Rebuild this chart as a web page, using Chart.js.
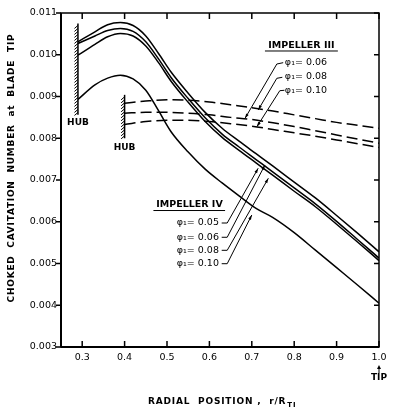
<!DOCTYPE html>
<html><head><meta charset="utf-8">
<script src="https://cdn.jsdelivr.net/npm/chart.js@4/dist/chart.umd.min.js"></script>
<style>html,body{margin:0;padding:0;background:#fff;overflow:hidden;}#wrap{width:395px;height:413px;position:relative;}</style>
</head><body><div id="wrap"><canvas id="c"></canvas></div>
<script>
// ---- data ----
const xTicks = [0.3, 0.4, 0.5, 0.6, 0.7, 0.8, 0.9, 1.0];
const yTicks = [0.003, 0.004, 0.005, 0.006, 0.007, 0.008, 0.009, 0.010, 0.011];

// Impeller IV (solid)
const rIV = [0.29, 0.33, 0.36, 0.39, 0.42, 0.45, 0.48, 0.51, 0.55, 0.59, 0.63, 0.67, 0.71, 0.75, 0.80, 0.85, 0.90, 0.95, 1.00];
const iv005 = [0.01031, 0.01055, 0.01072, 0.01077, 0.01070, 0.01045, 0.01003, 0.00958, 0.00908, 0.00862, 0.00824, 0.00793, 0.00763, 0.00733, 0.00695, 0.00657, 0.00615, 0.00572, 0.00528];
const iv006 = [0.01027, 0.01045, 0.01058, 0.01063, 0.01056, 0.01031, 0.00990, 0.00945, 0.00895, 0.00849, 0.00810, 0.00779, 0.00749, 0.00719, 0.00681, 0.00643, 0.00601, 0.00557, 0.00513];
const iv008 = [0.00999, 0.01025, 0.01043, 0.01051, 0.01045, 0.01021, 0.00981, 0.00936, 0.00886, 0.00840, 0.00802, 0.00771, 0.00741, 0.00711, 0.00673, 0.00636, 0.00594, 0.00551, 0.00507];
const iv010 = [0.00893, 0.00928, 0.00944, 0.00951, 0.00942, 0.00915, 0.00866, 0.00815, 0.00767, 0.00726, 0.00693, 0.00662, 0.00632, 0.00610, 0.00574, 0.00532, 0.00490, 0.00448, 0.00405];

// Impeller III (dashed)
const rIII = [0.40, 0.45, 0.50, 0.55, 0.60, 0.65, 0.70, 0.75, 0.80, 0.85, 0.90, 0.95, 1.00];
const iii006 = [0.00884, 0.00889, 0.00892, 0.00891, 0.00887, 0.00880, 0.00873, 0.00865, 0.00856, 0.00847, 0.00838, 0.00831, 0.00824];
const iii008 = [0.00860, 0.00862, 0.00862, 0.00860, 0.00856, 0.00850, 0.00845, 0.00837, 0.00828, 0.00818, 0.00808, 0.00798, 0.00788];
const iii010 = [0.00833, 0.00840, 0.00843, 0.00843, 0.00840, 0.00835, 0.00829, 0.00821, 0.00813, 0.00805, 0.00796, 0.00787, 0.00778];

const yTitle = 'CHOKED  CAVITATION  NUMBER  at  BLADE  TIP';
const xTitle = 'RADIAL  POSITION ,  r/R';
const xTitleSub = 'TI';

// ---- annotations (data coordinates) ----
const hubs = [
  {r: 0.29, v0: 0.01075, v1: 0.00856, label: 'HUB', labelV: 0.008485},
  {r: 0.40, v0: 0.00904, v1: 0.00800, label: 'HUB', labelV: 0.007886}
];
const impIII = {text: 'IMPELLER III', r: 0.817, v: 0.010222, ur0: 0.731, ur1: 0.903, uv: 0.01009};
const impIV = {text: 'IMPELLER IV', r: 0.553, v: 0.006401, ur0: 0.468, ur1: 0.637, uv: 0.006269};
const phiIII = [
  {t: '0.06', r: 0.778, v: 0.009802, path: [[0.774, 0.009810], [0.759, 0.009778], [0.684, 0.008478]]},
  {t: '0.08', r: 0.778, v: 0.009467, path: [[0.772, 0.009460], [0.759, 0.009436], [0.715, 0.008677]]},
  {t: '0.10', r: 0.778, v: 0.009132, path: [[0.777, 0.009149], [0.766, 0.009139], [0.712, 0.008277]]}
];
const phiIV = [
  {t: '0.05', r: 0.523, v: 0.00597, path: [[0.629, 0.00597], [0.642, 0.00597], [0.715, 0.007280]]},
  {t: '0.06', r: 0.523, v: 0.005628, path: [[0.629, 0.005628], [0.642, 0.005628], [0.731, 0.007359]]},
  {t: '0.08', r: 0.523, v: 0.005316, path: [[0.629, 0.005316], [0.642, 0.005316], [0.739, 0.007041]]},
  {t: '0.10', r: 0.523, v: 0.004995, path: [[0.629, 0.004995], [0.642, 0.004995], [0.700, 0.006162]]}
];

const pts = (xs, ys) => xs.map((x, i) => ({x: x, y: ys[i]}));
const solid = (label, ys) => ({label, data: pts(rIV, ys), borderColor: '#000', borderWidth: 1.5, pointRadius: 0, fill: false, cubicInterpolationMode: 'monotone'});
const dashed = (label, ys) => ({label, data: pts(rIII, ys), borderColor: '#000', borderWidth: 1.5, borderDash: [11, 5], pointRadius: 0, fill: false, cubicInterpolationMode: 'monotone'});

const FONT = '"DejaVu Sans", "Liberation Sans", sans-serif';

function line(ctx, x0, y0, x1, y1) { ctx.beginPath(); ctx.moveTo(x0, y0); ctx.lineTo(x1, y1); ctx.stroke(); }

const deco = {
  id: 'deco',
  afterDraw(chart) {
    const ctx = chart.ctx, a = chart.chartArea, xs = chart.scales.x, ys = chart.scales.y;
    const X = v => xs.getPixelForValue(v), Y = v => ys.getPixelForValue(v);
    ctx.save();
    ctx.strokeStyle = '#000'; ctx.fillStyle = '#000';
    // frame
    ctx.lineWidth = 1.5;
    ctx.strokeRect(a.left, a.top, a.right - a.left, a.bottom - a.top);
    ctx.lineWidth = 2;
    line(ctx, a.left, a.top, a.left, a.bottom);
    line(ctx, a.left, a.bottom, a.right, a.bottom);
    // ticks
    ctx.lineWidth = 1.5;
    xTicks.forEach(v => { const p = X(v); line(ctx, p, a.bottom, p, a.bottom - 6); line(ctx, p, a.top, p, a.top + 6); });
    yTicks.forEach(v => { const p = Y(v); line(ctx, a.left - 5, p, a.left, p); line(ctx, a.right - 5, p, a.right, p); });
    // hubs
    hubs.forEach(h => {
      const px = X(h.r), y0 = Y(h.v0), y1 = Y(h.v1);
      ctx.lineWidth = 1.5; line(ctx, px, y0, px, y1);
      ctx.lineWidth = 1;
      for (let y = y0 + 2; y <= y1; y += 3) line(ctx, px, y, px - 3.5, y + 3);
      ctx.font = 'bold 9px ' + FONT; ctx.textAlign = 'center'; ctx.textBaseline = 'top';
      ctx.fillText(h.label, px, Y(h.labelV));
    });
    // impeller labels
    [impIII, impIV].forEach(t => {
      ctx.font = 'bold 9.5px ' + FONT; ctx.textAlign = 'center'; ctx.textBaseline = 'middle';
      ctx.fillText(t.text, X(t.r), Y(t.v));
      ctx.lineWidth = 1; line(ctx, X(t.ur0), Y(t.uv), X(t.ur1), Y(t.uv));
    });
    // phi labels and leaders
    const drawPhi = (p) => {
      ctx.font = '9.5px ' + FONT; ctx.textAlign = 'left'; ctx.textBaseline = 'middle';
      ctx.fillText('φ₁= ' + p.t, X(p.r), Y(p.v));
      ctx.lineWidth = 1;
      ctx.beginPath();
      p.path.forEach((q, i) => { const px = X(q[0]), py = Y(q[1]); if (i) ctx.lineTo(px, py); else ctx.moveTo(px, py); });
      ctx.stroke();
      const n = p.path.length, e = p.path[n - 1], s = p.path[n - 2];
      const ex = X(e[0]), ey = Y(e[1]), sx = X(s[0]), sy = Y(s[1]);
      const ang = Math.atan2(ey - sy, ex - sx);
      ctx.beginPath();
      ctx.moveTo(ex, ey);
      ctx.lineTo(ex - 5 * Math.cos(ang - 0.3), ey - 5 * Math.sin(ang - 0.3));
      ctx.lineTo(ex - 5 * Math.cos(ang + 0.3), ey - 5 * Math.sin(ang + 0.3));
      ctx.closePath(); ctx.fill();
    };
    phiIII.forEach(drawPhi); phiIV.forEach(drawPhi);
    // TIP arrow under 1.0
    const tx = X(1.0);
    ctx.lineWidth = 1; line(ctx, tx, 367, tx, 373);
    ctx.beginPath(); ctx.moveTo(tx, 365); ctx.lineTo(tx - 2, 369); ctx.lineTo(tx + 2, 369); ctx.closePath(); ctx.fill();
    ctx.font = 'bold 9px ' + FONT; ctx.textAlign = 'center'; ctx.textBaseline = 'middle';
    ctx.fillText('TIP', tx, 378);
    // y title
    ctx.save();
    ctx.translate(12, 168); ctx.rotate(-Math.PI / 2);
    ctx.font = 'bold 9px ' + FONT; ctx.textAlign = 'center'; ctx.textBaseline = 'middle';
    const w0 = ctx.measureText(yTitle).width;
    if ('letterSpacing' in ctx) ctx.letterSpacing = Math.max(0, (268 - w0) / (yTitle.length - 1)) + 'px';
    ctx.fillText(yTitle, 0, 0);
    ctx.restore();
    // x title
    ctx.save();
    ctx.font = 'bold 9px ' + FONT; ctx.textAlign = 'left'; ctx.textBaseline = 'middle';
    if ('letterSpacing' in ctx) ctx.letterSpacing = '0.8px';
    const wm = ctx.measureText(xTitle).width;
    const start = 148;
    ctx.fillText(xTitle, start, 401.5);
    ctx.font = 'bold 7px ' + FONT;
    ctx.fillText(xTitleSub, start + wm + 1, 405);
    ctx.restore();
    ctx.restore();
  }
};

new Chart(document.getElementById('c'), {
  type: 'line',
  data: {
    datasets: [
      solid('Impeller IV φ1=0.05', iv005),
      solid('Impeller IV φ1=0.06', iv006),
      solid('Impeller IV φ1=0.08', iv008),
      solid('Impeller IV φ1=0.10', iv010),
      dashed('Impeller III φ1=0.06', iii006),
      dashed('Impeller III φ1=0.08', iii008),
      dashed('Impeller III φ1=0.10', iii010)
    ]
  },
  options: {
    responsive: true, maintainAspectRatio: false, animation: false,
    layout: {padding: {top: 13, right: 16, left: 0, bottom: 0}},
    plugins: {legend: {display: false}, tooltip: {enabled: false}, title: {display: false}},
    scales: {
      x: {
        type: 'linear', min: 0.25, max: 1.0,
        afterBuildTicks: s => { s.ticks = xTicks.map(v => ({value: v})); },
        afterFit: s => { s.height = 66; },
        grid: {display: false, drawTicks: false}, border: {display: false},
        ticks: {padding: 5, color: '#000', font: {family: FONT, size: 9.5}, callback: v => Number(v).toFixed(1), maxRotation: 0, autoSkip: false}
      },
      y: {
        type: 'linear', min: 0.003, max: 0.011,
        afterBuildTicks: s => { s.ticks = yTicks.map(v => ({value: v})); },
        afterFit: s => { s.width = 61; },
        grid: {display: false, drawTicks: false}, border: {display: false},
        ticks: {padding: 4, color: '#000', font: {family: FONT, size: 9.5}, callback: v => Number(v).toFixed(3), autoSkip: false}
      }
    }
  },
  plugins: [deco]
});
</script>
</body></html>
